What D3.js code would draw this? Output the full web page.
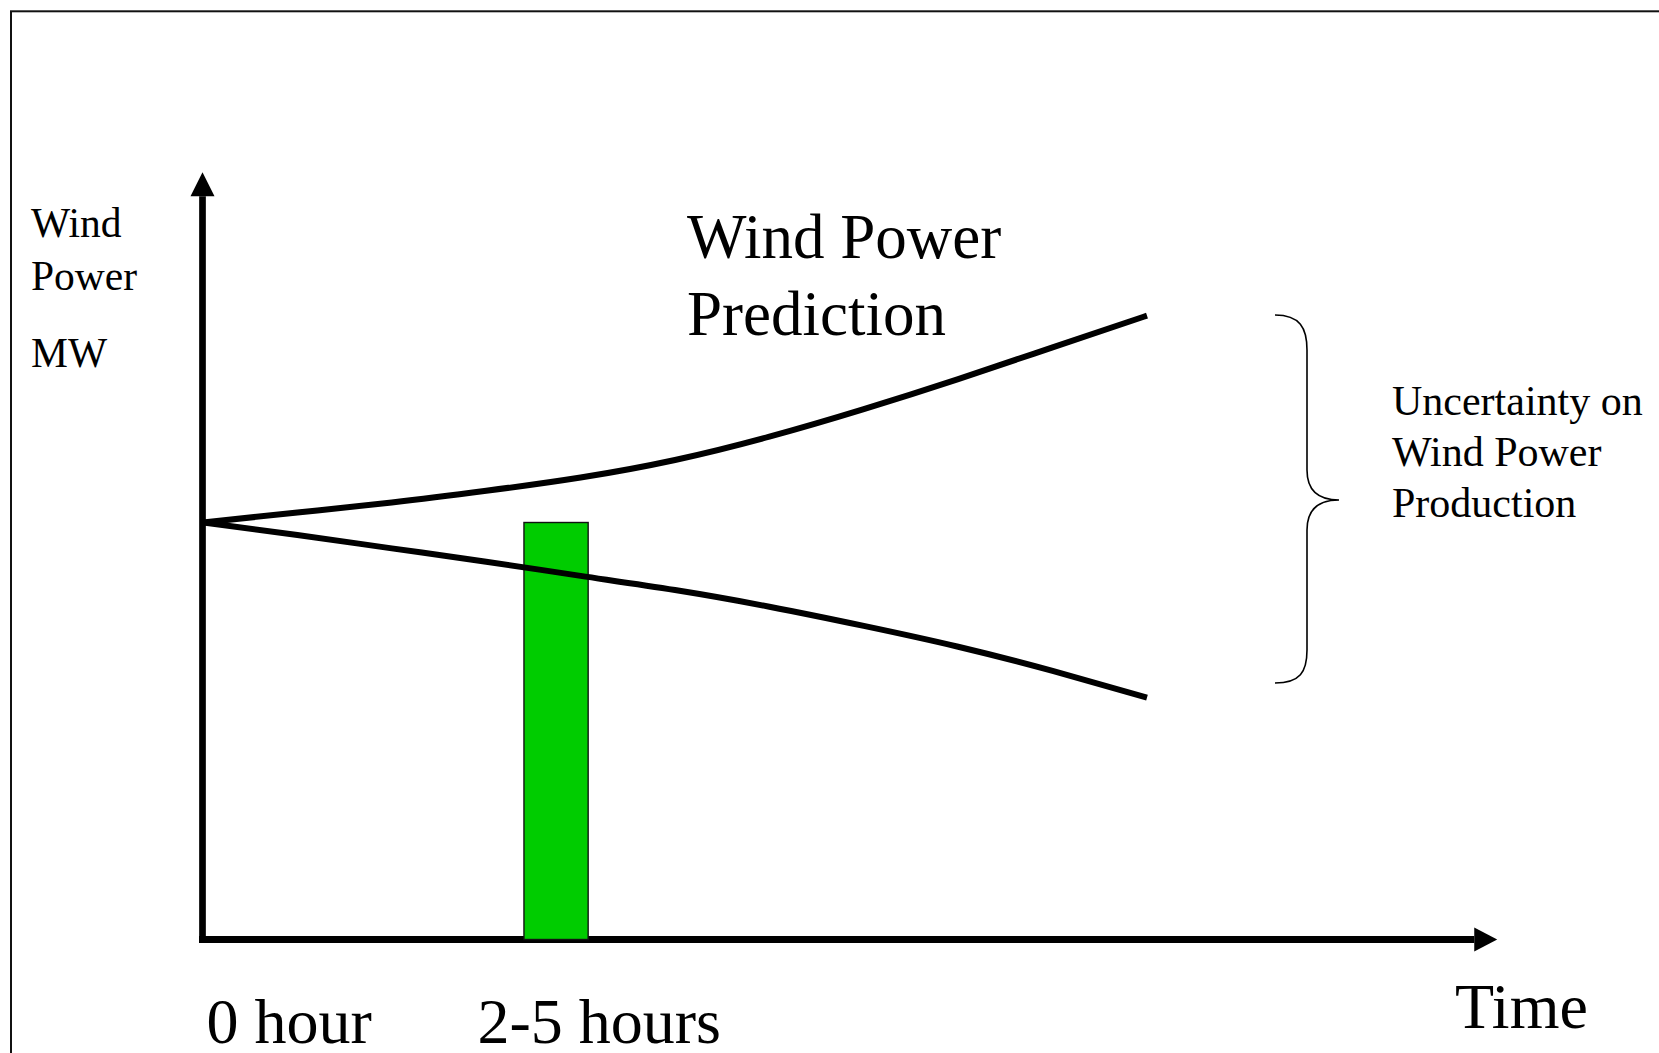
<!DOCTYPE html>
<html>
<head>
<meta charset="utf-8">
<script src="https://cdn.jsdelivr.net/npm/d3@7"></script>
<style>
  html, body { margin: 0; padding: 0; background: #fff; }
  svg { display: block; }
  text { font-family: "Liberation Serif", "Times New Roman", serif; fill: #000; }
</style>
</head>
<body>
<script>
// Forecast horizon (arbitrary time units) and the spread of the prediction band
const timeSteps  = [0, 10, 20, 30, 40, 50, 60, 70, 80, 90, 100];
const upperBound = [50, 51.2, 52.4, 53.8, 55.4, 57.5, 60.3, 63.6, 67.2, 71.0, 74.8];
const lowerBound = [50, 48.5, 46.9, 45.3, 43.6, 41.9, 39.9, 37.6, 35.1, 32.2, 29.0];

// Short-term window highlighted as a bar
const windowStart = [34];
const windowEnd   = [40.8];
const windowValue = [50];

// Time axis labels
const tickValues = [0, 28.7];
const tickLabels = ["0 hour", "2-5 hours"];

const W = 1659, H = 1053;
const svg = d3.select("body").append("svg").attr("width", W).attr("height", H);

const x = d3.scaleLinear().domain([0, 100]).range([203, 1147]);
const y = d3.scaleLinear().domain([0, 100]).range([939.5, 105.5]);

// Outer frame (open to the right and bottom)
svg.append("rect")
  .attr("x", 11).attr("y", 11.3)
  .attr("width", 1720).attr("height", 1120)
  .attr("fill", "none").attr("stroke", "#111").attr("stroke-width", 2);

// Axes with arrow heads
const xTip = x(137.1), yTip = y(92);
svg.append("line")
  .attr("x1", 199).attr("x2", xTip - 23)
  .attr("y1", y(0)).attr("y2", y(0))
  .attr("stroke", "#000").attr("stroke-width", 7);
svg.append("path")
  .attr("d", `M${xTip},${y(0)} L${xTip - 23},${y(0) - 12} L${xTip - 23},${y(0) + 12} Z`)
  .attr("fill", "#000");

svg.append("line")
  .attr("x1", x(0) - 0.5).attr("x2", x(0) - 0.5)
  .attr("y1", y(0) + 3.5).attr("y2", yTip + 24)
  .attr("stroke", "#000").attr("stroke-width", 6.7);
svg.append("path")
  .attr("d", `M${x(0) - 0.5},${yTip} L${x(0) - 12.5},${yTip + 24} L${x(0) + 11.5},${yTip + 24} Z`)
  .attr("fill", "#000");

// Time labels
const xAxis = d3.axisBottom(x)
  .tickValues(tickValues)
  .tickFormat((d, i) => tickLabels[i])
  .tickSize(0);
const gx = svg.append("g")
  .attr("transform", `translate(0,${y(0)})`)
  .call(xAxis);
gx.select(".domain").remove();
gx.attr("font-family", null).attr("font-size", null);
gx.selectAll("text")
  .attr("y", 103).attr("dy", 0)
  .attr("text-anchor", "start")
  .attr("dx", 3)
  .style("font-family", "'Liberation Serif', 'Times New Roman', serif")
  .style("font-size", "64px");

svg.append("text")
  .attr("x", 1455).attr("y", 1028)
  .style("font-size", "64px")
  .text("Time");

// Highlighted short-term window
svg.selectAll("rect.window")
  .data(windowStart.map((s, i) => ({ s, e: windowEnd[i], v: windowValue[i] })))
  .join("rect")
  .attr("class", "window")
  .attr("x", d => x(d.s))
  .attr("width", d => x(d.e) - x(d.s))
  .attr("y", d => y(d.v))
  .attr("height", d => y(0) - y(d.v))
  .attr("fill", "#00CC00")
  .attr("stroke", "#111")
  .attr("stroke-width", 1.4);

// Prediction band
const line = d3.line()
  .x(d => x(d[0]))
  .y(d => y(d[1]))
  .curve(d3.curveNatural);

[upperBound, lowerBound].forEach(series => {
  svg.append("path")
    .datum(timeSteps.map((t, i) => [t, series[i]]))
    .attr("d", line)
    .attr("fill", "none")
    .attr("stroke", "#000")
    .attr("stroke-width", 6);
});

// Y axis caption
const yCap = svg.append("g").style("font-size", "41.5px");
yCap.append("text").attr("x", 31).attr("y", 237).text("Wind");
yCap.append("text").attr("x", 31).attr("y", 290).text("Power");
yCap.append("text").attr("x", 31).attr("y", 367).text("MW");

// Title
const title = svg.append("g").style("font-size", "63px");
title.append("text").attr("x", 687).attr("y", 258).text("Wind Power");
title.append("text").attr("x", 687).attr("y", 335).text("Prediction");

// Uncertainty brace and note
svg.append("path")
  .attr("d", "M1275,315 C1300,315 1307,328 1307,350 L1307,470 C1307,490 1318,500 1339,500 " +
             "C1318,500 1307,510 1307,530 L1307,650 C1307,672 1300,683 1275,683")
  .attr("fill", "none").attr("stroke", "#000").attr("stroke-width", 1.6);

const note = svg.append("g").style("font-size", "42px");
note.append("text").attr("x", 1392).attr("y", 415).text("Uncertainty on");
note.append("text").attr("x", 1392).attr("y", 466).text("Wind Power");
note.append("text").attr("x", 1392).attr("y", 517).text("Production");
</script>
</body>
</html>
